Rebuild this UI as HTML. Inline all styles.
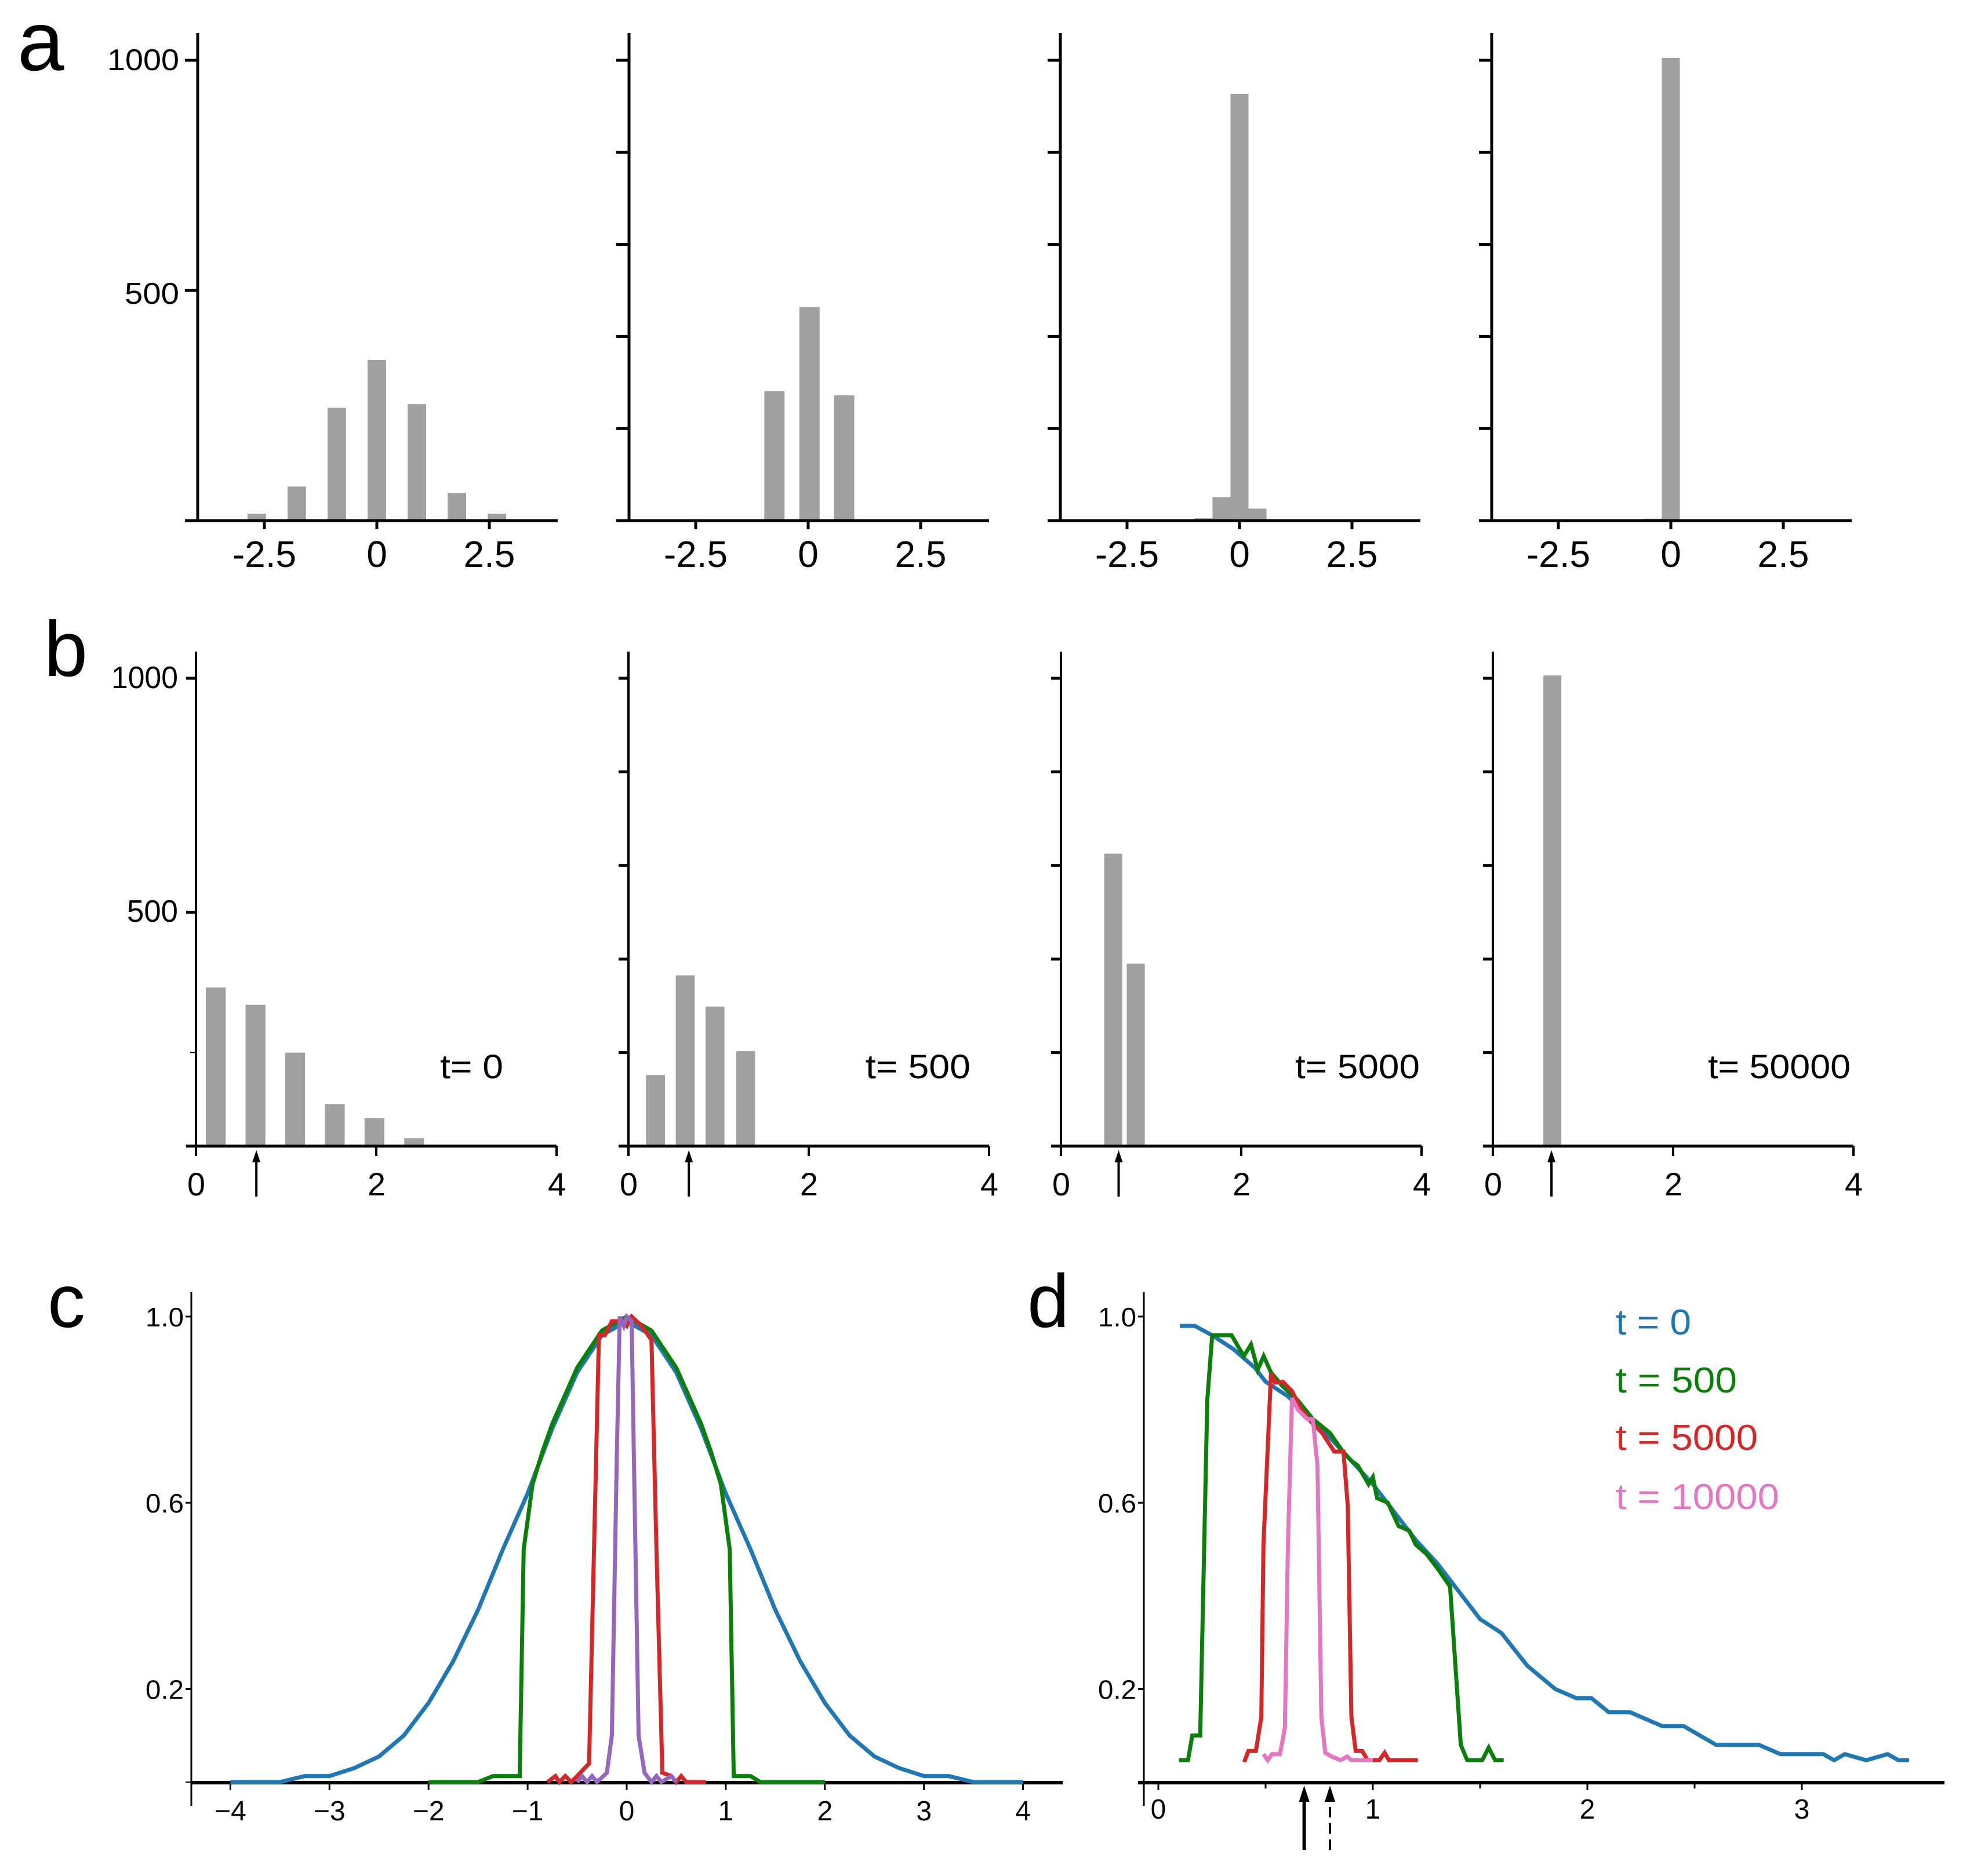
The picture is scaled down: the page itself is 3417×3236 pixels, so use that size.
<!DOCTYPE html>
<html><head><meta charset="utf-8"><style>
html,body{margin:0;padding:0;background:#fff;}
svg{display:block;}
text{font-family:"Liberation Sans",sans-serif;}
.n{font-family:"Liberation Sans Narrow","Liberation Sans",sans-serif;}
</style></head><body>
<svg id="fig" xmlns="http://www.w3.org/2000/svg" width="3417" height="3236" viewBox="0 0 3417 3236">
<rect x="0" y="0" width="3417" height="3236" fill="#fff"/>
<text x="30" y="121" font-size="145">a</text>
<text x="76" y="1166" font-size="135">b</text>
<text x="82" y="2289" font-size="130">c</text>
<text x="1772" y="2289" font-size="130">d</text>
</svg>
<script>
// ---- Row a data ----
const aCenters1 = [-2.67,-1.78,-0.89,0,0.89,1.78,2.67];
const aCounts1 = [15,74,245,349,253,60,15];
const aCenters2 = [-0.75,0.03,0.8];
const aCounts2 = [281,464,272];
const aCenters3 = [-0.8,-0.4,0,0.4];
const aCounts3 = [5,51,927,26];
const aCenters4 = [-0.4,0,0.4];
const aCounts4 = [4,1005,1];
const aWidths = [0.41,0.45,0.4,0.4];
const aXTicks = [-2.5,0,2.5];
const aXTickLabels = ["-2.5","0","2.5"];
// ---- Row b data ----
const bCenters1 = [0.22,0.66,1.1,1.54,1.98,2.42,2.86];
const bCounts1 = [339,302,200,90,60,17,3];
const bCenters2 = [0.3,0.63,0.96,1.3];
const bCounts2 = [152,365,298,203];
const bCenters3 = [0.33,0.58,0.83];
const bCounts3 = [3,625,390];
const bCenters4 = [0.66,0.91,1.16];
const bCounts4 = [1006,2,2];
const bWidths = [0.22,0.21,0.2,0.2];
const bArrows = [0.67,0.67,0.64,0.65];
const bTimeLabels = ["t= 0","t= 500","t= 5000","t= 50000"];
const bXTicks = [0,2,4];
const yTicksCount = [0,200,400,600,800,1000];
// ---- Panel c data ----
const cBlueX = [-4,-3.75,-3.5,-3.25,-3,-2.75,-2.5,-2.25,-2,-1.75,-1.5,-1.25,-1,-0.75,-0.5,-0.25,0,0.25,0.5,0.75,1,1.25,1.5,1.75,2,2.25,2.5,2.75,3,3.25,3.5,3.75,4];
const cBlueY = [0,0,0,0.013,0.013,0.03,0.055,0.1,0.17,0.26,0.37,0.5,0.62,0.76,0.88,0.96,0.99,0.96,0.88,0.76,0.62,0.5,0.37,0.26,0.17,0.1,0.055,0.03,0.013,0.013,0,0,0];
const cGreenX = [-2,-1.5,-1.35,-1.08,-1.04,-0.95,-0.85,-0.75,-0.5,-0.25,0,0.25,0.5,0.75,0.85,0.95,1.04,1.08,1.25,1.35,2];
const cGreenY = [0,0,0.013,0.013,0.5,0.64,0.71,0.77,0.89,0.97,1.0,0.97,0.89,0.77,0.71,0.64,0.5,0.013,0.013,0,0];
const cRedX = [-0.8,-0.72,-0.68,-0.62,-0.56,-0.5,-0.38,-0.33,-0.28,-0.22,-0.15,-0.05,0,0.05,0.15,0.25,0.3,0.36,0.45,0.5,0.55,0.6,0.8];
const cRedY = [0,0.013,0,0.013,0,0.013,0.04,0.5,0.96,0.96,0.99,0.99,0.98,1.0,0.98,0.95,0.5,0.02,0.013,0,0.013,0,0];
const cPurpleX = [-0.5,-0.45,-0.4,-0.35,-0.3,-0.2,-0.15,-0.1,-0.07,-0.03,0,0.05,0.08,0.12,0.18,0.25,0.3,0.35,0.45,0.5];
const cPurpleY = [0,0.013,0,0.013,0,0.02,0.1,0.7,1.0,0.98,1.0,0.99,0.6,0.1,0.02,0,0.013,0,0.013,0];
const cXTicks = [-4,-3,-2,-1,0,1,2,3,4];
const cXTickLabels = ["\u22124","\u22123","\u22122","\u22121","0","1","2","3","4"];
const yTicksFrac = [0.2,0.6,1.0];
const yTickFracLabels = ["0.2","0.6","1.0"];
// ---- Panel d data ----
const dBlueX = [0.1,0.17,0.25,0.35,0.45,0.5,0.6,0.7,0.8,0.9,1.0,1.1,1.2,1.3,1.4,1.5,1.6,1.72,1.85,1.95,2.02,2.1,2.2,2.35,2.45,2.6,2.8,2.9,3.1,3.15,3.2,3.3,3.4,3.45,3.5];
const dBlueY = [0.98,0.98,0.96,0.93,0.89,0.86,0.83,0.79,0.74,0.69,0.64,0.58,0.52,0.47,0.41,0.35,0.32,0.25,0.2,0.18,0.18,0.15,0.15,0.12,0.12,0.08,0.08,0.06,0.06,0.047,0.06,0.047,0.06,0.047,0.047];
const dGreenX = [0.096,0.138,0.158,0.195,0.228,0.251,0.341,0.398,0.432,0.463,0.491,0.525,0.58,0.65,0.72,0.8,0.86,0.9,0.93,0.98,1.0,1.02,1.07,1.12,1.17,1.2,1.25,1.3,1.36,1.41,1.44,1.51,1.54,1.57,1.61];
const dGreenY = [0.047,0.047,0.1,0.1,0.82,0.96,0.96,0.915,0.94,0.886,0.915,0.88,0.85,0.82,0.78,0.75,0.71,0.69,0.68,0.64,0.655,0.61,0.6,0.55,0.54,0.51,0.49,0.46,0.42,0.08,0.047,0.047,0.074,0.047,0.047];
const dRedX = [0.4,0.42,0.455,0.48,0.49,0.525,0.545,0.58,0.623,0.666,0.72,0.764,0.82,0.863,0.883,0.9,0.92,0.95,0.976,1.03,1.055,1.075,1.21];
const dRedY = [0.043,0.067,0.067,0.14,0.51,0.878,0.858,0.86,0.84,0.8,0.77,0.75,0.71,0.71,0.594,0.14,0.067,0.067,0.047,0.047,0.063,0.047,0.047];
const dPinkX = [0.49,0.51,0.53,0.567,0.59,0.604,0.623,0.65,0.694,0.72,0.742,0.76,0.778,0.807,0.85,0.88,0.9,1.0];
const dPinkY = [0.06,0.047,0.06,0.06,0.117,0.51,0.825,0.8,0.78,0.78,0.68,0.14,0.063,0.055,0.047,0.055,0.047,0.047];
const dXTicks = [0,1,2,3];
const dMinorTicks = [0.5,1.5,2.5];
const dLegendLabels = ["t = 0","t = 500","t = 5000","t = 10000"];
const dArrows = [0.68,0.8];

const NS = "http://www.w3.org/2000/svg";
const svg = document.getElementById('fig');
function mk(tag, attrs){ const e=document.createElementNS(NS,tag); for(const k in attrs) e.setAttribute(k,attrs[k]); svg.appendChild(e); return e; }

// ===== Row a =====
const aAxisX=[341,1085,1829,2573];
const aC=[aCenters1,aCenters2,aCenters3,aCenters4], aH=[aCounts1,aCounts2,aCounts3,aCounts4];
for(let p=0;p<4;p++){
  const ax=aAxisX[p], x0=ax+309, sx=77.6, y0=898, sy=0.794;
  const X=v=>x0+v*sx, Y=v=>y0-v*sy;
  for(let i=0;i<aC[p].length;i++){
    const w=aWidths[p]*sx;
    const r=mk('rect',{x:X(aC[p][i])-w/2,y:Y(aH[p][i]),width:w,height:aH[p][i]*sy,fill:'#a0a0a0'});
    
    
  }
  const ya=mk('line',{x1:ax,y1:57,x2:ax,y2:y0,stroke:'#000','stroke-width':5});
  
  
  const xa=mk('line',{x1:ax-22,y1:y0,x2:ax+621,y2:y0,stroke:'#000','stroke-width':5});
  
  
  const yt = p===0?[500,1000]:yTicksCount.slice(1);
  yt.forEach(v=>{ const t=mk('line',{x1:ax-22,y1:Y(v),x2:ax,y2:Y(v),stroke:'#000','stroke-width':5});
    
     });
  if(p===0){
    [[1000,121,124],[500,524,94]].forEach(([v,b,w])=>{ const t=mk('text',{x:309-w,y:b,'font-size':52,textLength:w,lengthAdjust:'spacingAndGlyphs'}); t.textContent=String(v);
      
       });
  }
  aXTicks.forEach((v,i)=>{
    const t=mk('line',{x1:X(v),y1:y0,x2:X(v),y2:y0+15,stroke:'#000','stroke-width':5});
    
    
    const l=mk('text',{x:X(v),y:978,'font-size':64,'text-anchor':'middle'}); l.textContent=aXTickLabels[i];
    
    
  });
}

// ===== Row b =====
const bAxisX=[338,1084,1830,2575];
const bLabelLeft=[421,409,404,371];
const bLabelWidth=[109,181,215,246];
const bC=[bCenters1,bCenters2,bCenters3,bCenters4], bH=[bCounts1,bCounts2,bCounts3,bCounts4];
for(let p=0;p<4;p++){
  const ax=bAxisX[p], sx=155.5, y0=1977, sy=0.807;
  const X=v=>ax+v*sx, Y=v=>y0-v*sy;
  for(let i=0;i<bC[p].length;i++){
    const w=bWidths[p]*sx;
    const r=mk('rect',{x:X(bC[p][i])-w/2,y:Y(bH[p][i]),width:w,height:bH[p][i]*sy,fill:'#a0a0a0'});
    
    
  }
  const ya=mk('line',{x1:ax,y1:1124,x2:ax,y2:y0,stroke:'#000','stroke-width':4});
  
  
  const xa=mk('line',{x1:ax-17,y1:y0,x2:ax+622,y2:y0,stroke:'#000','stroke-width':5});
  
  
  const yt = p===0?[200,500,1000]:yTicksCount.slice(1);
  yt.forEach(v=>{ const small=(p===0&&v===200); const t=mk('line',{x1:ax-(small?10:17),y1:Y(v),x2:ax,y2:Y(v),stroke:'#000','stroke-width':small?2:5});
    
     });
  if(p===0){
    [[1000,1187,115],[500,1590,88]].forEach(([v,b,w])=>{ const t=mk('text',{x:307-w,y:b,'font-size':54,textLength:w,lengthAdjust:'spacingAndGlyphs'}); t.textContent=String(v);
      
       });
  }
  bXTicks.forEach(v=>{
    const t=mk('line',{x1:X(v),y1:y0,x2:X(v),y2:y0+17,stroke:'#000','stroke-width':4});
    
    
    const l=mk('text',{x:X(v)-15,y:2062,'font-size':56,textLength:31,lengthAdjust:'spacingAndGlyphs'}); l.textContent=String(v);
    
    
  });
  const ar=mk('line',{x1:X(bArrows[p]),y1:2064,x2:X(bArrows[p]),y2:2000,stroke:'#000','stroke-width':4});
  
  
  const ah=mk('polygon',{points:`${X(bArrows[p])-7},2005 ${X(bArrows[p])+7},2005 ${X(bArrows[p])},1984`,fill:'#000'});
  
  
  const tl=mk('text',{x:ax+bLabelLeft[p],y:1860,'font-size':58,textLength:bLabelWidth[p],lengthAdjust:'spacingAndGlyphs'}); tl.textContent=bTimeLabels[p];
  
  
}

// ===== Panels c & d common =====
function line(xs,ys,X,Y,color,name){
  const pts=xs.map((x,i)=>X(x).toFixed(1)+','+Y(ys[i]).toFixed(1)).join(' ');
  const pl=mk('polyline',{points:pts,fill:'none',stroke:color,'stroke-width':7,'stroke-linejoin':'miter'});
  
  
}
const Yc=v=>3074-v*803;
function yAxisFrac(ax){
  const ya=mk('line',{x1:ax,y1:2229,x2:ax,y2:3115,stroke:'#000','stroke-width':3});
  
  
  yTicksFrac.forEach((v,i)=>{
    const t=mk('line',{x1:ax-10,y1:Yc(v),x2:ax,y2:Yc(v),stroke:'#000','stroke-width':3});
    
    
    const l=mk('text',{x:ax-79,y:Yc(v)+17,'font-size':46,textLength:66,lengthAdjust:'spacingAndGlyphs'}); l.textContent=yTickFracLabels[i];
    
    
  });
  const t0=mk('line',{x1:ax-10,y1:Yc(0),x2:ax,y2:Yc(0),stroke:'#000','stroke-width':2});
  
  
}

// ===== Panel c =====
{
  const X=v=>1081+v*170.9;
  yAxisFrac(330);
  const xa=mk('line',{x1:330,y1:3075,x2:1833,y2:3075,stroke:'#000','stroke-width':6});
  
  
  cXTicks.forEach((v,i)=>{
    const t=mk('line',{x1:X(v),y1:3075,x2:X(v),y2:3088,stroke:'#000','stroke-width':3});
    
    
    const l=mk('text',{x:X(v),y:3140,'font-size':48,'text-anchor':'middle'}); l.textContent=cXTickLabels[i];
    
    
  });
  line(cBlueX,cBlueY,X,Yc,'#1f77b4','c-line-t0');
  line(cGreenX,cGreenY,X,Yc,'#0a800a','c-line-t500');
  line(cRedX,cRedY,X,Yc,'#d62728','c-line-t5000');
  line(cPurpleX,cPurpleY,X,Yc,'#9467bd','c-line-t10000');
}

// ===== Panel d =====
{
  const X=v=>1998+v*370;
  yAxisFrac(1973);
  const xa=mk('line',{x1:1963,y1:3075,x2:3354,y2:3075,stroke:'#000','stroke-width':6});
  
  
  dXTicks.forEach(v=>{
    const t=mk('line',{x1:X(v),y1:3075,x2:X(v),y2:3088,stroke:'#000','stroke-width':3});
    
    
    const l=mk('text',{x:X(v),y:3137,'font-size':48,'text-anchor':'middle'}); l.textContent=String(v);
    
    
  });
  dMinorTicks.forEach(v=>{
    const t=mk('line',{x1:X(v),y1:3075,x2:X(v),y2:3085,stroke:'#000','stroke-width':3});
    
    
  });
  line(dBlueX,dBlueY,X,Yc,'#1f77b4','d-line-t0');
  line(dGreenX,dGreenY,X,Yc,'#0a800a','d-line-t500');
  line(dRedX,dRedY,X,Yc,'#d62728','d-line-t5000');
  line(dPinkX,dPinkY,X,Yc,'#e377c2','d-line-t10000');
  const cols=['#1f77b4','#0a800a','#d62728','#e377c2'];
  const base=[2302,2402,2501,2603];
  const widths=[130,209,245,282];
  dLegendLabels.forEach((s,i)=>{
    const l=mk('text',{x:2787,y:base[i],'font-size':62,fill:cols[i],textLength:widths[i],lengthAdjust:'spacingAndGlyphs'}); l.textContent=s;
    
    
  });
  dArrows.forEach((v,i)=>{
    const a=mk('line',{x1:X(v),y1:3191,x2:X(v),y2:3100,stroke:'#000','stroke-width':i?4:6,'stroke-dasharray':i?'18,10':'none'});
    
    
    const h=mk('polygon',{points:`${X(v)-9},3108 ${X(v)+9},3108 ${X(v)},3080`,fill:'#000'});
    
    
  });
}
</script>
</body></html>
